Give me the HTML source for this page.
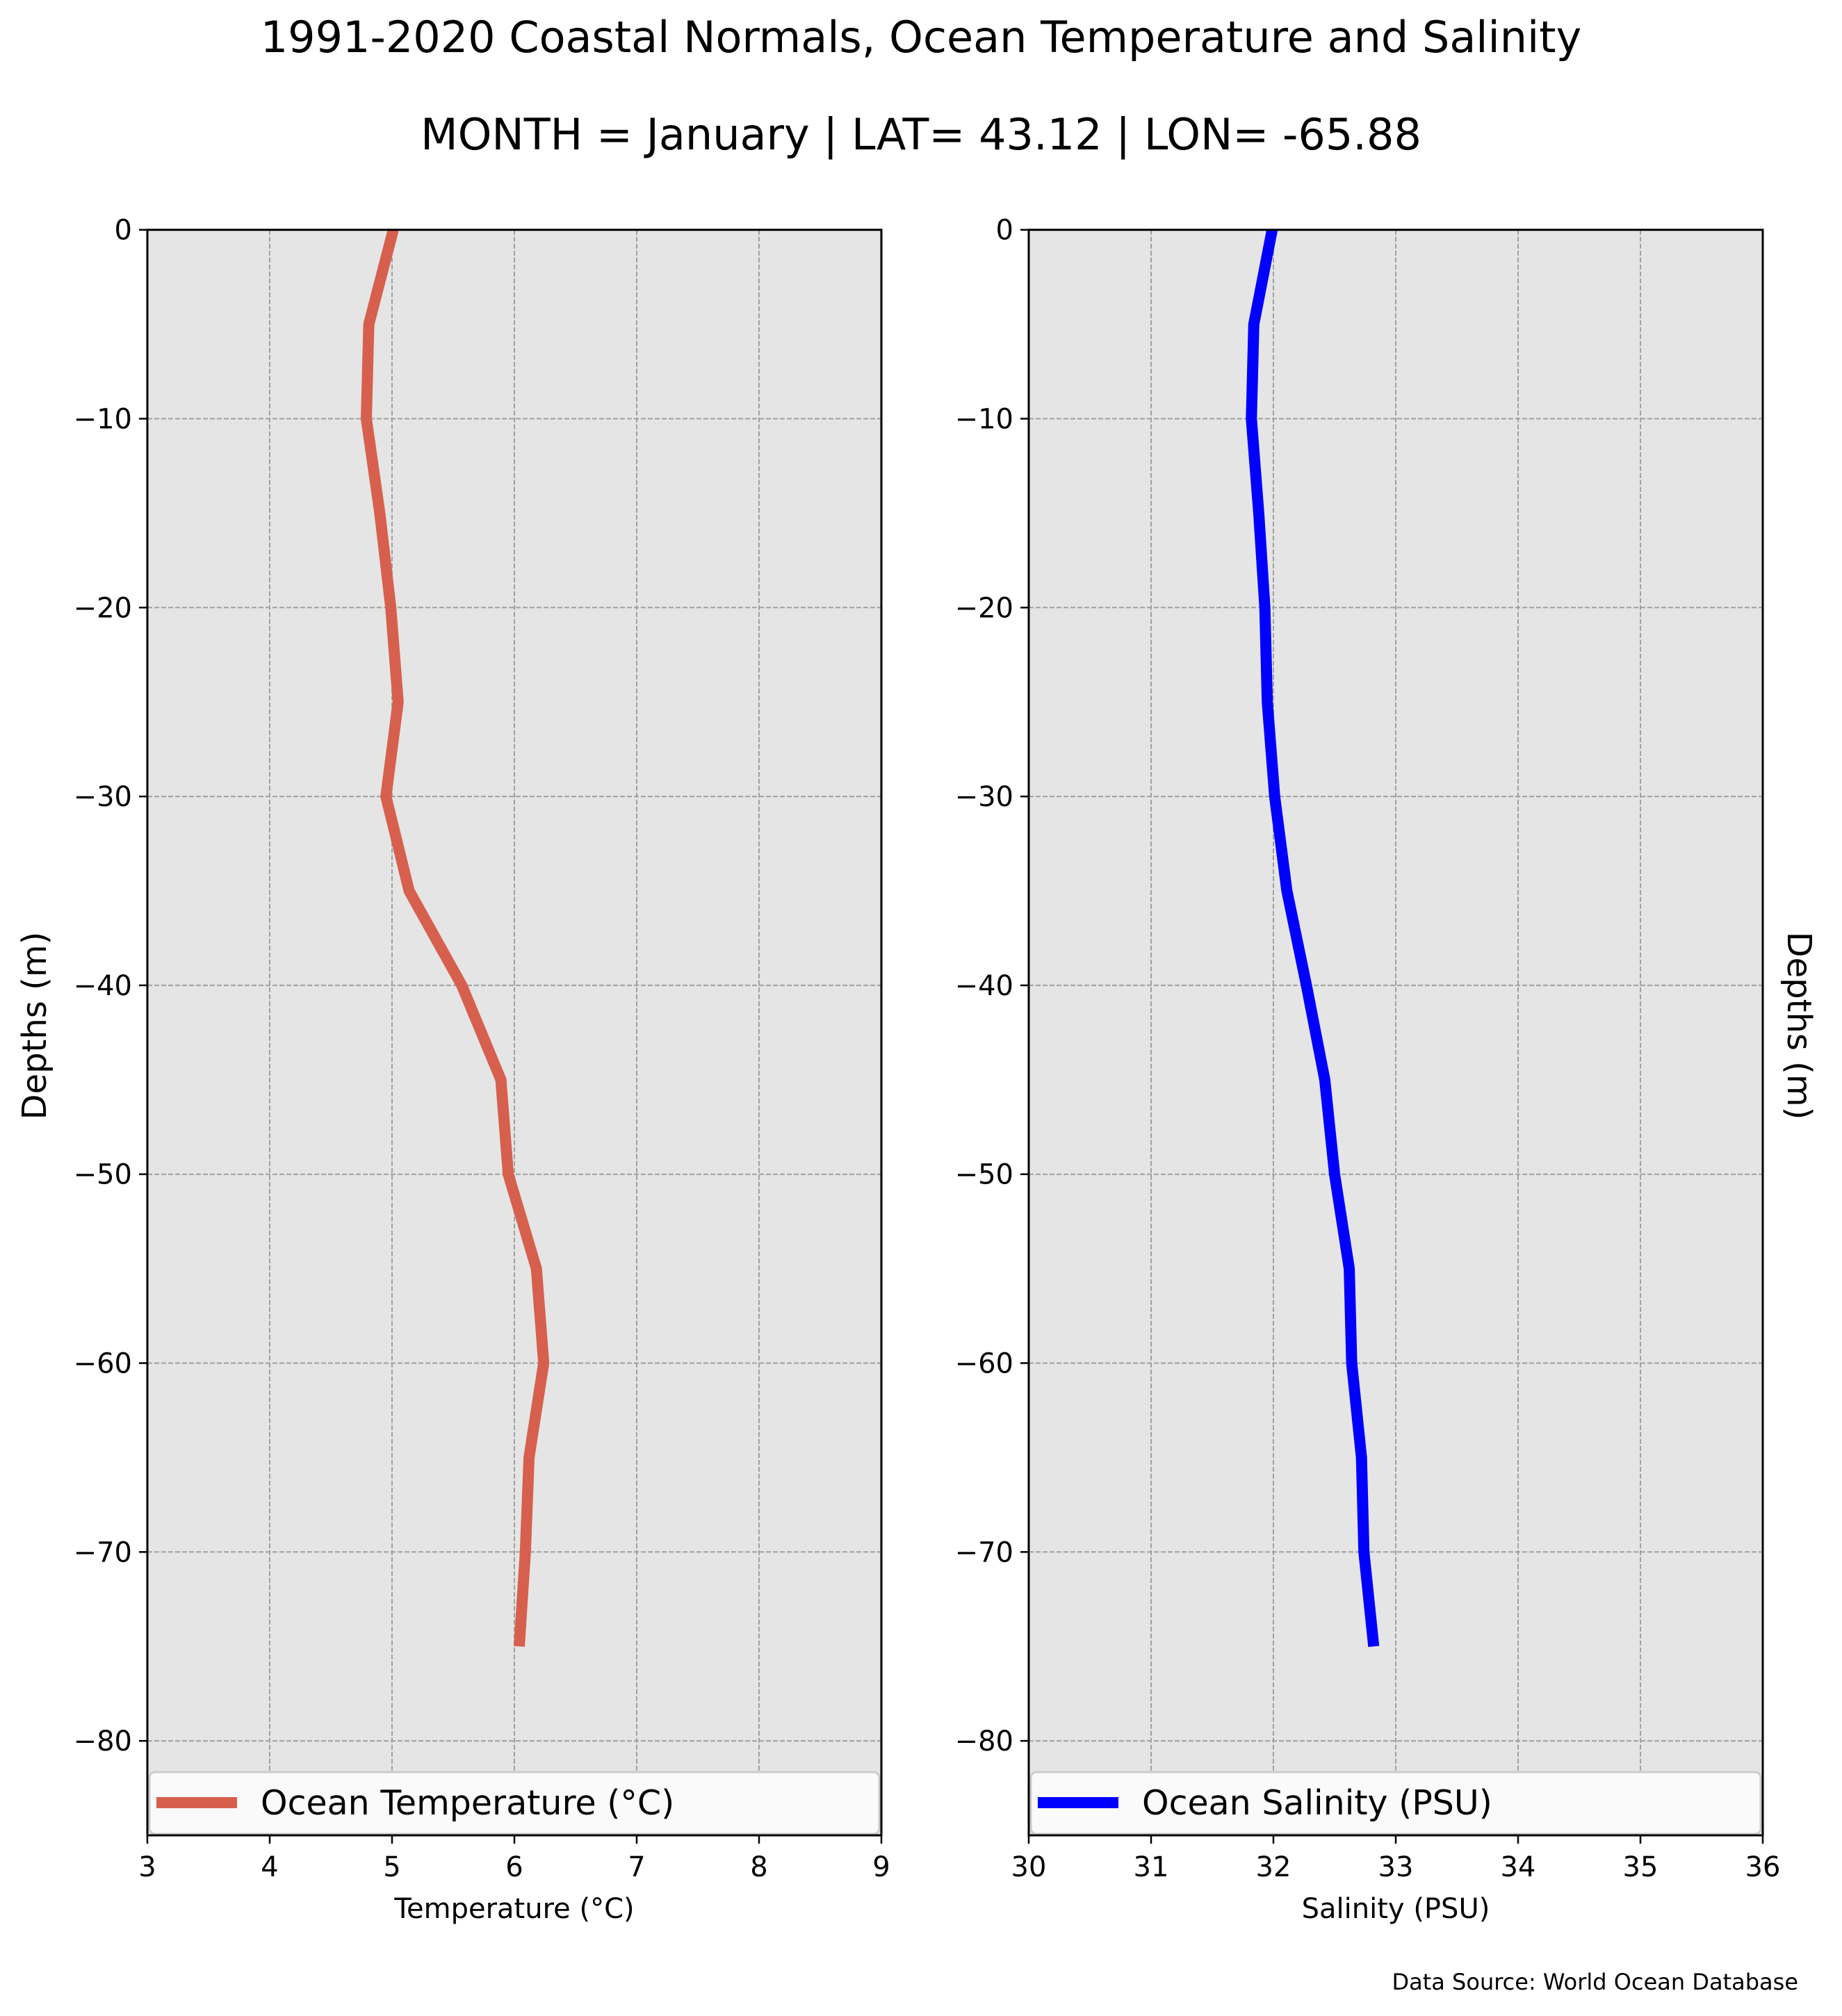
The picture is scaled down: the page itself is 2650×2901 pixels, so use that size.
<!DOCTYPE html>
<html><head><meta charset="utf-8"><style>
html,body{margin:0;padding:0;background:#fff;}
svg{display:block;font-family:"DejaVu Sans","Liberation Sans",sans-serif;}
</style></head><body>
<svg id="fig" width="2650" height="2901" viewBox="0 0 2650 2901" xmlns="http://www.w3.org/2000/svg">
<text x="1325" y="75" font-size="62" text-anchor="middle">1991-2020 Coastal Normals, Ocean Temperature and Salinity</text>
<text x="1325" y="215" font-size="62" text-anchor="middle">MONTH = January | LAT= 43.12 | LON= -65.88</text>
<text x="2587" y="2863" font-size="32" text-anchor="end">Data Source: World Ocean Database</text>
<g id="left"></g>
<g id="right"></g>
</svg>
<script>
const depths = [0,-5,-10,-15,-20,-25,-30,-35,-40,-45,-50,-55,-60,-65,-70,-75];
const temperature = [5.01,4.81,4.79,4.90,4.99,5.05,4.95,5.14,5.57,5.89,5.95,6.18,6.24,6.12,6.09,6.04];
const salinity = [31.99,31.84,31.82,31.88,31.93,31.95,32.01,32.11,32.27,32.42,32.50,32.62,32.64,32.72,32.74,32.82];
const yTicks = [0,-10,-20,-30,-40,-50,-60,-70,-80];
const tempTicks = [3,4,5,6,7,8,9];
const salTicks = [30,31,32,33,34,35,36];

const NS = "http://www.w3.org/2000/svg";
function mk(parent, tag, attrs, text){
  const e = document.createElementNS(NS, tag);
  for (const k in attrs) e.setAttribute(k, attrs[k]);
  if (text !== undefined) e.textContent = text;
  parent.appendChild(e);
  return e;
}
const TOP = 330.7, BOT = 2641, YMIN = -85, YMAX = 0;
function yScale(v){ return TOP + (YMAX - v) / (YMAX - YMIN) * (BOT - TOP); }

function panel(g, x0, x1, xmin, xmax, xTickVals, values, color, legendText, xlabel, ylabelSide, prefix){
  const xs = v => x0 + (v - xmin) / (xmax - xmin) * (x1 - x0);
  const bg = mk(g, 'rect', {x:x0, y:TOP, width:x1-x0, height:BOT-TOP, fill:'#e5e5e5'});
  
  
  xTickVals.forEach(t => {
    const X = xs(t);
    if (t !== xmin && t !== xmax) {
      const gl = mk(g, 'line', {x1:X, x2:X, y1:TOP, y2:BOT, stroke:'#a0a0a0', 'stroke-width':2, 'stroke-dasharray':'7,3'});
      
      
    }
    mk(g, 'line', {x1:X, x2:X, y1:BOT, y2:BOT+12, stroke:'#000', 'stroke-width':2.5});
    const tl = mk(g, 'text', {x:X, y:2700, 'font-size':40, 'text-anchor':'middle'}, String(t));
    
    
  });
  yTicks.forEach(t => {
    const Y = yScale(t);
    if (t !== 0) {
      const gl = mk(g, 'line', {x1:x0, x2:x1, y1:Y, y2:Y, stroke:'#a0a0a0', 'stroke-width':2, 'stroke-dasharray':'7,3'});
      
      
    }
    mk(g, 'line', {x1:x0-12, x2:x0, y1:Y, y2:Y, stroke:'#000', 'stroke-width':2.5});
    const tl = mk(g, 'text', {x:x0-22, y:Y+14, 'font-size':40, 'text-anchor':'end'}, t < 0 ? '\u2212' + Math.abs(t) : String(t));
    
    
  });
  const pts = values.map((v, i) => xs(v).toFixed(1) + ',' + yScale(depths[i]).toFixed(1)).join(' ');
  const line = mk(g, 'polyline', {points:pts, fill:'none', stroke:color, 'stroke-width':16, 'stroke-linejoin':'miter', 'stroke-linecap':'butt'});
  
  
  // legend
  const lg = mk(g, 'g', {});
  
  
  mk(lg, 'rect', {x:x0+3, y:2550, width:x1-x0-6, height:89, rx:8, fill:'#fafafa', stroke:'#cccccc', 'stroke-width':3});
  mk(lg, 'line', {x1:x0+13, x2:x0+129, y1:2594, y2:2594, stroke:color, 'stroke-width':16});
  mk(lg, 'text', {x:x0+163, y:2611, 'font-size':49}, legendText);
  // spines
  const sp = mk(g, 'rect', {x:x0, y:TOP, width:x1-x0, height:BOT-TOP, fill:'none', stroke:'#000', 'stroke-width':3});
  
  
  const xl = mk(g, 'text', {x:(x0+x1)/2, y:2760, 'font-size':40, 'text-anchor':'middle'}, xlabel);
  
  
  if (ylabelSide === 'left') {
    const yl = mk(g, 'text', {x:0, y:0, 'font-size':48, 'text-anchor':'middle', transform:'translate(66,1476) rotate(-90)'}, 'Depths (m)');
    
    
  } else {
    const yl = mk(g, 'text', {x:0, y:0, 'font-size':48, 'text-anchor':'middle', transform:'translate(2572,1476) rotate(90)'}, 'Depths (m)');
    
    
  }
}
panel(document.getElementById('left'), 212, 1268, 3, 9, tempTicks, temperature, '#d6604d', 'Ocean Temperature (\u00B0C)', 'Temperature (\u00B0C)', 'left', 'temperature');
panel(document.getElementById('right'), 1480, 2536, 30, 36, salTicks, salinity, '#0000ff', 'Ocean Salinity (PSU)', 'Salinity (PSU)', 'right', 'salinity');
</script>
</body></html>
